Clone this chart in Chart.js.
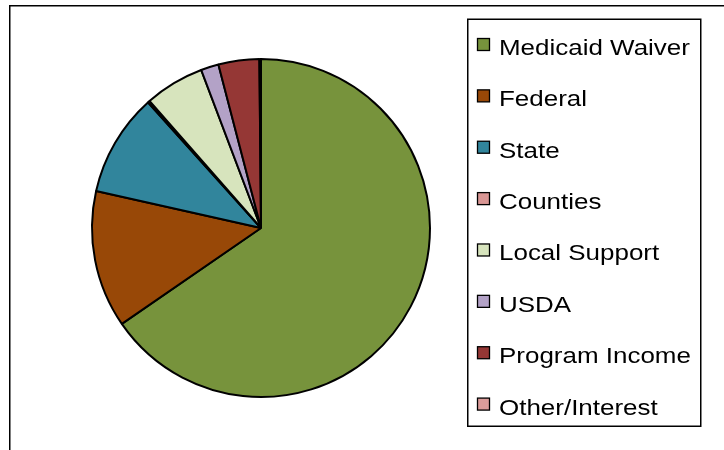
<!DOCTYPE html>
<html>
<head>
<meta charset="utf-8">
<script src="https://cdn.jsdelivr.net/npm/chart.js@4/dist/chart.umd.min.js"></script>
<style>
html,body{margin:0;padding:0;background:#fff;}
#wrap{width:724px;height:450px;position:relative;}
</style>
</head>
<body>
<div id="wrap"><canvas id="c" width="724" height="450"></canvas></div>
<script>
const categories = ["Medicaid Waiver","Federal","State","Counties","Local Support","USDA","Program Income","Other/Interest"];
const shares = [65.3, 13.1, 9.8, 0.2, 5.7, 1.7, 3.9, 0.15];
const colors = ["#77933C","#984807","#31859C","#D99694","#D7E4BD","#B3A2C7","#953735","#DC9C9A"];

const framePlugin = {
  id: 'frame',
  beforeDraw(chart) {
    const ctx = chart.ctx;
    ctx.save();
    ctx.fillStyle = '#fff';
    ctx.fillRect(0, 0, chart.width, chart.height);
    ctx.strokeStyle = '#000';
    ctx.lineWidth = 1.5;
    ctx.beginPath();
    ctx.moveTo(9.75, 460);
    ctx.lineTo(9.75, 5.75);
    ctx.lineTo(740, 5.75);
    ctx.stroke();
    ctx.restore();
  },
  afterDraw(chart) {
    const ctx = chart.ctx;
    ctx.save();
    ctx.strokeStyle = '#000';
    ctx.lineWidth = 1.5;
    ctx.strokeRect(467.75, 19.25, 233, 407);
    const labels = chart.data.labels;
    const bg = chart.data.datasets[0].backgroundColor;
    ctx.font = '22px "Liberation Sans", Arial, sans-serif';
    ctx.textBaseline = 'alphabetic';
    ctx.fillStyle = '#000';
    for (let i = 0; i < labels.length; i++) {
      const base = 55 + i * 51.37;
      ctx.fillStyle = bg[i];
      ctx.fillRect(477.5, base - 16.5, 12, 12);
      ctx.strokeStyle = '#000';
      ctx.lineWidth = 1.3;
      ctx.strokeRect(477.5, base - 16.5, 12, 12);
      ctx.fillStyle = '#000';
      ctx.save();
      ctx.translate(499, base);
      ctx.scale(1.18, 1);
      ctx.fillText(labels[i], 0, 0);
      ctx.restore();
    }
    ctx.restore();
  }
};

new Chart(document.getElementById('c'), {
  type: 'pie',
  data: {
    labels: categories,
    datasets: [{
      data: shares,
      backgroundColor: colors,
      borderColor: '#000',
      borderWidth: 2
    }]
  },
  options: {
    responsive: false,
    animation: false,
    layout: { padding: { left: 91, right: 724 - 431, top: 58, bottom: 450 - 398 } },
    plugins: {
      legend: { display: false },
      tooltip: { enabled: false }
    }
  },
  plugins: [framePlugin]
});
</script>
</body>
</html>
